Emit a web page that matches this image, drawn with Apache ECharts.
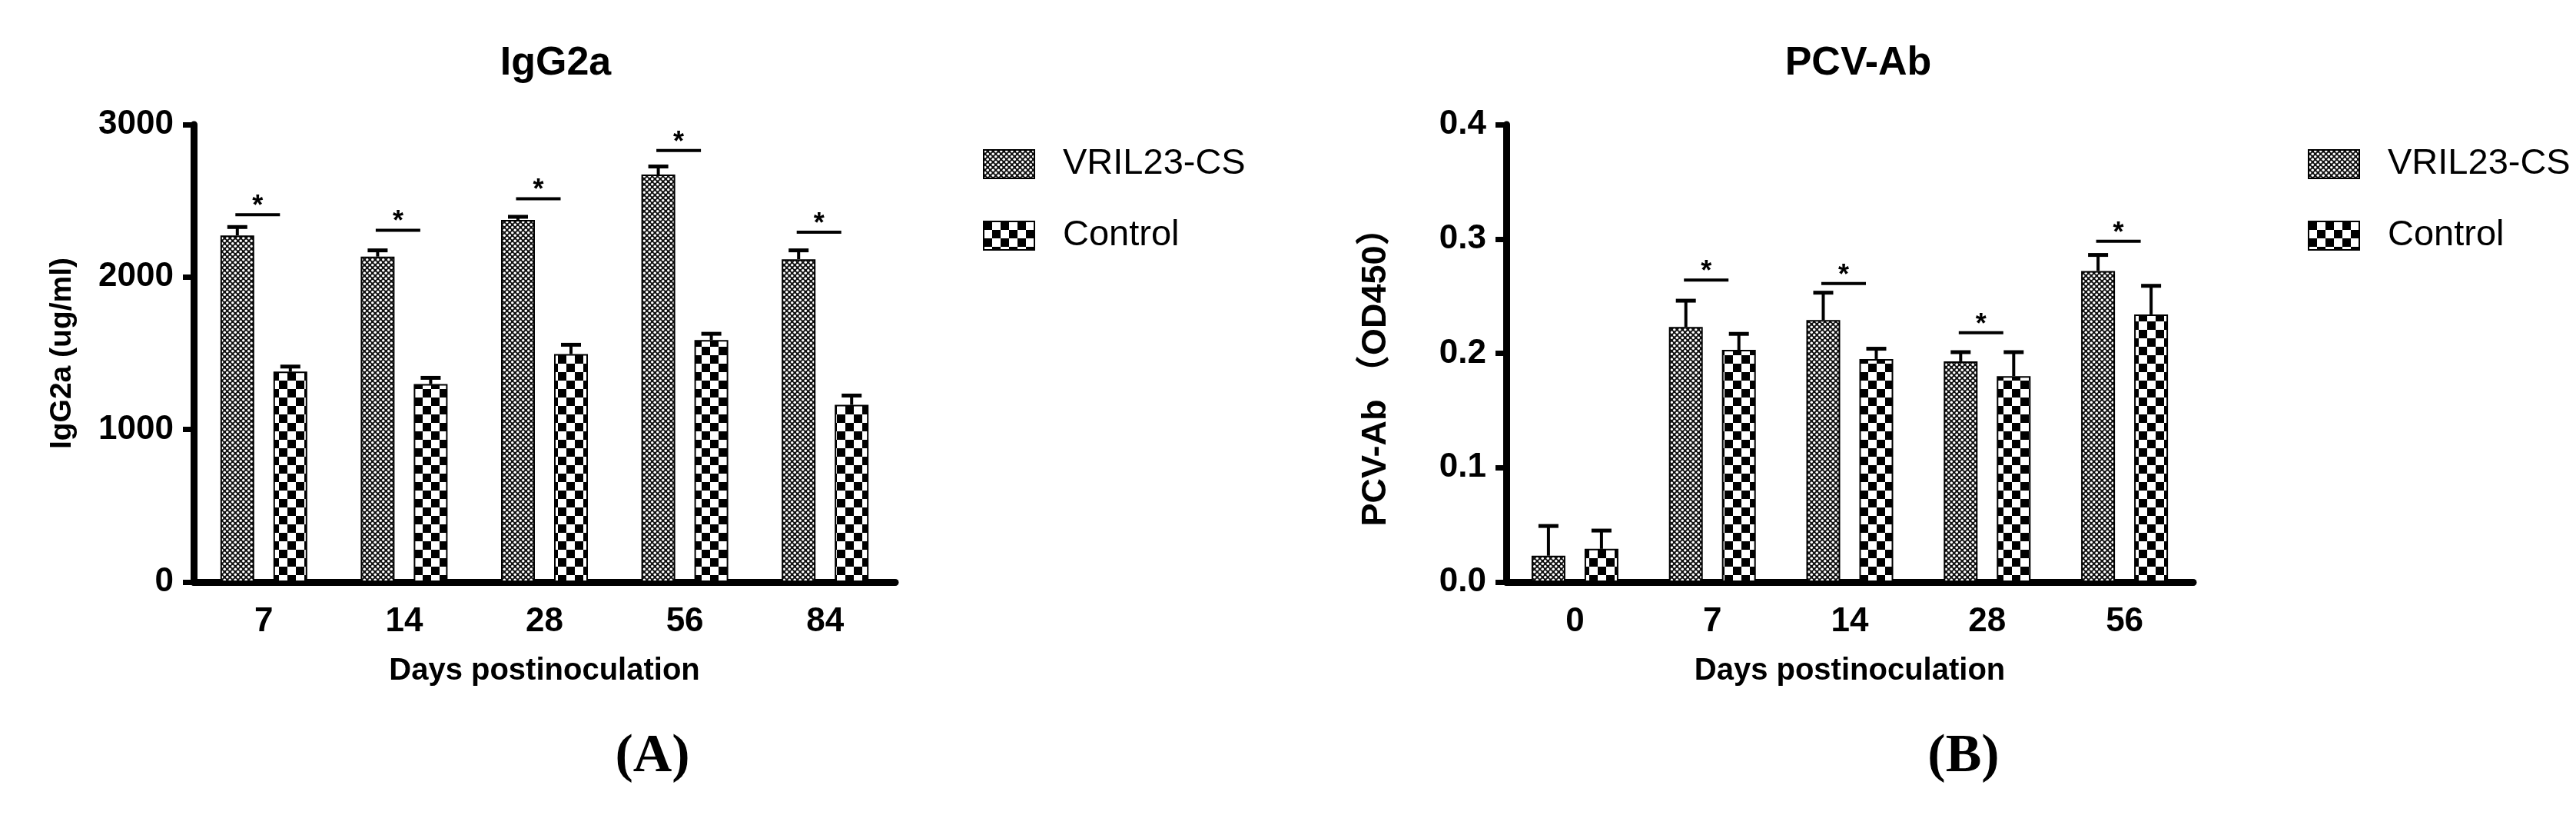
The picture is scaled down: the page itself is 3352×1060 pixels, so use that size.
<!DOCTYPE html>
<html>
<head>
<meta charset="utf-8">
<title>IgG2a / PCV-Ab</title>
<script src="https://cdn.jsdelivr.net/npm/echarts@6/dist/echarts.min.js"></script>
<style>
  html, body { margin: 0; padding: 0; background: #fff; }
  #chartsBox { width: 3352px; height: 1060px; }
</style>
</head>
<body>
<div id="chartsBox"></div>
<script>
// (A) IgG2a
const daysA = ['7', '14', '28', '56', '84']
const igVril = [2273, 2134, 2375, 2672, 2117]
const igVrilErr = [55, 41, 20, 53, 58]
const igCtrl = [1380, 1298, 1495, 1587, 1162]
const igCtrlErr = [33, 41, 61, 41, 61]
const igSig = [2409, 2307, 2514, 2830, 2294]
const igTicks = [0, 1000, 2000, 3000]

// (B) PCV-Ab
const daysB = ['0', '7', '14', '28', '56']
const pcvVril = [0.023, 0.223, 0.229, 0.193, 0.272]
const pcvVrilErr = [0.026, 0.023, 0.024, 0.008, 0.014]
const pcvCtrl = [0.029, 0.203, 0.195, 0.180, 0.234]
const pcvCtrlErr = [0.016, 0.014, 0.009, 0.021, 0.025]
const pcvSig = [null, 0.264, 0.261, 0.218, 0.298]
const pcvTicks = [0, 0.1, 0.2, 0.3, 0.4]

const groups = ['VRIL23-CS', 'Control']
const FONT = '"Liberation Sans", Arial, sans-serif'

// 填充图案
function makePattern(size, draw) {
  const c = document.createElement('canvas')
  c.width = size
  c.height = size
  draw(c.getContext('2d'))
  return { image: c, repeat: 'repeat' }
}
const dotPattern = makePattern(7, ctx => {
  ctx.fillStyle = '#111'
  ctx.fillRect(0, 0, 7, 7)
  ctx.fillStyle = '#fff'
  ;[[1.75, 1.75], [5.25, 5.25]].forEach(p => {
    ctx.beginPath()
    ctx.arc(p[0], p[1], 1.75, 0, Math.PI * 2)
    ctx.fill()
  })
})
const checkPattern = makePattern(22, ctx => {
  ctx.fillStyle = '#fff'
  ctx.fillRect(0, 0, 22, 22)
  ctx.fillStyle = '#000'
  ctx.fillRect(0, 0, 11, 11)
  ctx.fillRect(11, 11, 11, 11)
})

const BAR_W = 44
const BAR_GAP = 25
const HALF = (BAR_W + BAR_GAP) / 2

function errorBar(offset) {
  return function(params, api) {
    const base = api.coord([api.value(0), api.value(1)])
    const top = api.coord([api.value(0), api.value(1) + api.value(2)])
    const x = base[0] + offset
    return {
      type: 'group',
      children: [
        { type: 'line', shape: { x1: x, y1: base[1], x2: x, y2: top[1] }, style: { stroke: '#000', lineWidth: 4 } },
        { type: 'line', shape: { x1: x - 13, y1: top[1], x2: x + 13, y2: top[1] }, style: { stroke: '#000', lineWidth: 5 } }
      ]
    }
  }
}

function sigMark(params, api) {
  const p = api.coord([api.value(0), api.value(1)])
  return {
    type: 'group',
    children: [
      { type: 'line', shape: { x1: p[0] - 37, y1: p[1], x2: p[0] + 21, y2: p[1] }, style: { stroke: '#000', lineWidth: 4 } },
      { type: 'text', x: p[0] - 8, y: p[1] - 10, style: { text: '*', fill: '#000', font: 'bold 36px ' + FONT, align: 'center', verticalAlign: 'middle' } }
    ]
  }
}

function xAxisOf(gridIndex, data) {
  return {
    gridIndex,
    type: 'category',
    data,
    name: 'Days postinoculation',
    nameLocation: 'middle',
    nameGap: 96,
    nameTextStyle: { color: '#000', fontFamily: FONT, fontWeight: 'bold', fontSize: 40 },
    axisLine: { lineStyle: { color: '#000', width: 9 } },
    axisTick: { alignWithLabel: true, length: 14, lineStyle: { color: '#000', width: 7 } },
    axisLabel: { margin: 30, color: '#000', fontFamily: FONT, fontWeight: 'bold', fontSize: 44 }
  }
}

function yAxisOf(gridIndex, ticks, name, gap, digits, nameSize, namePad) {
  return {
    gridIndex,
    type: 'value',
    min: ticks[0],
    max: ticks[ticks.length - 1],
    interval: ticks[1] - ticks[0],
    name,
    nameLocation: 'middle',
    nameGap: gap,
    nameTextStyle: {
      color: '#000',
      fontFamily: FONT + ', "Noto Sans CJK SC"',
      fontWeight: 'bold',
      fontSize: nameSize,
      padding: namePad
    },
    axisLine: { show: true, lineStyle: { color: '#000', width: 9 } },
    axisTick: { show: true, length: 14, lineStyle: { color: '#000', width: 7 } },
    splitLine: { show: false },
    axisLabel: {
      margin: 26,
      color: '#000',
      fontFamily: FONT,
      fontWeight: 'bold',
      fontSize: 44,
      formatter: v => v.toFixed(digits)
    }
  }
}

function barSeries(name, idx, data, pattern) {
  return {
    name,
    type: 'bar',
    xAxisIndex: idx,
    yAxisIndex: idx,
    data,
    barWidth: BAR_W,
    barGap: (BAR_GAP / BAR_W * 100) + '%',
    itemStyle: { color: pattern, borderColor: '#000', borderWidth: 2 },
    z: 2
  }
}

function customSeries(idx, data, renderItem) {
  return {
    type: 'custom',
    xAxisIndex: idx,
    yAxisIndex: idx,
    renderItem,
    data,
    encode: { x: 0, y: 1 },
    z: 3,
    silent: true
  }
}

function legendOf(left) {
  return {
    data: groups,
    orient: 'vertical',
    left,
    top: 185,
    icon: 'rect',
    itemWidth: 66,
    itemHeight: 37,
    itemGap: 46,
    textStyle: { color: '#000', fontFamily: FONT, fontSize: 47, lineHeight: 37, padding: [0, 0, 0, 32] }
  }
}

const titleStyle = { color: '#000', fontFamily: FONT, fontWeight: 'bold', fontSize: 52 }
const panelStyle = { color: '#000', fontFamily: '"Liberation Serif", "Times New Roman", serif', fontWeight: 'bold', fontSize: 70 }

const option = {
  animation: false,
  backgroundColor: '#fff',
  title: [
    { text: 'IgG2a', left: 718, top: 52, textAlign: 'center', textStyle: titleStyle },
    { text: 'PCV-Ab', left: 2413, top: 52, textAlign: 'center', textStyle: titleStyle },
    { text: '(A)', left: 844, top: 945, textAlign: 'center', textStyle: panelStyle },
    { text: '(B)', left: 2550, top: 945, textAlign: 'center', textStyle: panelStyle }
  ],
  legend: [legendOf(1274), legendOf(2998)],
  grid: [
    { left: 252, top: 162, width: 913, height: 595 },
    { left: 1960, top: 162, width: 894, height: 595 }
  ],
  xAxis: [xAxisOf(0, daysA), xAxisOf(1, daysB)],
  yAxis: [
    yAxisOf(0, igTicks, 'IgG2a (ug/ml)', 151, 0, 39, 0),
    yAxisOf(1, pcvTicks, 'PCV-Ab （OD450）', 147, 1, 45, [0, 40, 0, 0])
  ],
  series: [
    barSeries(groups[0], 0, igVril, dotPattern),
    barSeries(groups[1], 0, igCtrl, checkPattern),
    customSeries(0, igVril.map((v, i) => [i, v, igVrilErr[i]]), errorBar(-HALF)),
    customSeries(0, igCtrl.map((v, i) => [i, v, igCtrlErr[i]]), errorBar(HALF)),
    customSeries(0, igSig.map((v, i) => [i, v]), sigMark),

    barSeries(groups[0], 1, pcvVril, dotPattern),
    barSeries(groups[1], 1, pcvCtrl, checkPattern),
    customSeries(1, pcvVril.map((v, i) => [i, v, pcvVrilErr[i]]), errorBar(-HALF)),
    customSeries(1, pcvCtrl.map((v, i) => [i, v, pcvCtrlErr[i]]), errorBar(HALF)),
    customSeries(1, pcvSig.map((v, i) => [i, v]).filter(d => d[1] !== null), sigMark)
  ]
}

const chart = echarts.init(document.getElementById('chartsBox'))
chart.setOption(option)
</script>
</body>
</html>
